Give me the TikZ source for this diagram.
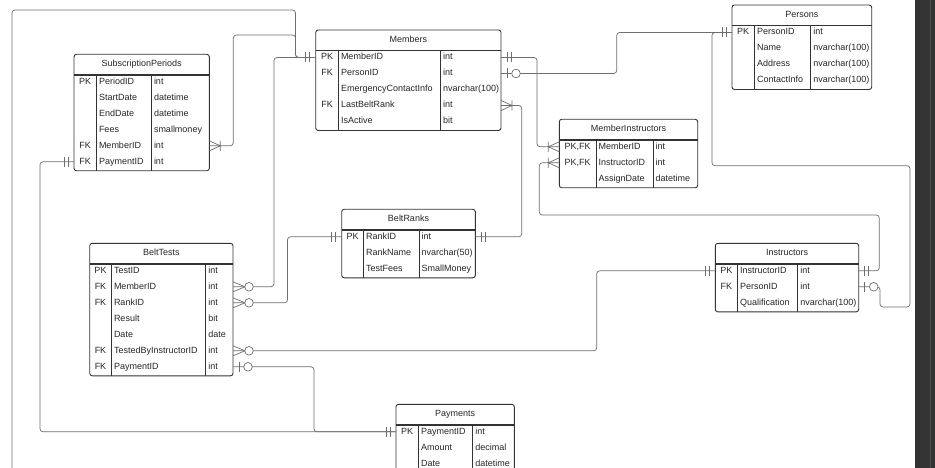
\documentclass[tikz,border=0pt]{standalone}
\usepackage{fontspec}
\setmainfont{Liberation Sans}
\usepackage{tikz}

\definecolor{tblcol}{HTML}{333333}
\definecolor{linkcol}{HTML}{6E6E6E}
\definecolor{panelcol}{HTML}{333333}

\tikzset{
  tblframe/.style={draw=tblcol, line width=0.9pt, rounded corners=2.5pt},
  cell/.style={font=\fontsize{9}{10}\selectfont, text=black!85, text height=6.5pt,
    text depth=2pt, inner xsep=2.5pt, inner ysep=0pt},
  conn/.style={draw=linkcol, line width=0.7pt, rounded corners=3pt},
  one/.pic={\draw[linkcol, line width=0.7pt] (6,-5) -- (6,5) (10,-5) -- (10,5);},
  manyone/.pic={\draw[linkcol, line width=0.7pt] (0,-5) -- (11,0) -- (0,5) (11,-5) -- (11,5);},
  zeromany/.pic={\draw[linkcol, line width=0.7pt] (0,-5) -- (12,0) -- (0,5);
    \draw[linkcol, line width=0.7pt, fill=white] (16,0) circle (4.3);},
  zeroone/.pic={\draw[linkcol, line width=0.7pt] (6,-5) -- (6,5);
    \draw[linkcol, line width=0.7pt, fill=white] (15,0) circle (4.3);}
}

% name, title, left, col1, col2, right, top, rows, fields
\newcommand{\ertable}[9]{%
  \pgfmathsetmacro\ersep{#7+20.5}%
  \pgfmathsetmacro\erbot{\ersep+16*#8}%
  \draw[tblframe, fill=white] (#3,#7) rectangle (#6,\erbot);
  \draw[tblcol, line width=1.5pt] (#3,\ersep) -- (#6,\ersep);
  \draw[tblcol, line width=0.7pt] (#4,\ersep) -- (#4,\erbot) (#5,\ersep) -- (#5,\erbot);
  \node[cell] (#1) at ({(#3+#6)/2},{#7+10}) {#2};
  \foreach \k/\f/\t [count=\i] in {#9} {
    \pgfmathsetmacro\ery{\ersep+7+16*(\i-1)}
    \node[cell] (#1-k\i) at ({(#3+#4)/2},\ery) {\k};
    \node[cell, anchor=west] (#1-f\i) at (#4,\ery) {\f};
    \node[cell, anchor=west] (#1-t\i) at (#5,\ery) {\t};
    \coordinate (#1-w\i) at (#3,\ery);
    \coordinate (#1-e\i) at (#6,\ery);
  }%
}

\begin{document}
\begin{tikzpicture}[x=1pt, y=-1pt]
  \useasboundingbox (0,0) rectangle (935,468);
  \fill[white] (0,0) rectangle (935,468);
  \clip (0,0) rectangle (935,468);
  \fill[panelcol] (915,0) rectangle (935,468);
  \draw[gray!60!black, line width=0.6pt] (930,0) -- (930,468);

  \ertable{sp}{SubscriptionPeriods}{74}{96.3}{151.3}{209.3}{54.3}{6}{%
    PK/PeriodID/int, /StartDate/datetime, /EndDate/datetime, /Fees/smallmoney,
    FK/MemberID/int, FK/PaymentID/int}
  \ertable{mem}{Members}{315.7}{338.3}{440.3}{501}{30}{5}{%
    PK/MemberID/int, FK/PersonID/int, /EmergencyContactInfo/nvarchar(100),
    FK/LastBeltRank/int, /IsActive/bit}
  \ertable{per}{Persons}{732}{754.3}{810.7}{871.7}{5}{4}{%
    PK/PersonID/int, /Name/nvarchar(100), /Address/nvarchar(100), /ContactInfo/nvarchar(100)}
  \ertable{mi}{MemberInstructors}{559.3}{596}{653}{697.7}{119.3}{3}{%
    {PK,FK}/MemberID/int, {PK,FK}/InstructorID/int, /AssignDate/datetime}
  \ertable{br}{BeltRanks}{341.7}{363.3}{419}{475.3}{209.3}{3}{%
    PK/RankID/int, /RankName/nvarchar(50), /TestFees/SmallMoney}
  \ertable{inst}{Instructors}{715.3}{737.3}{797.7}{858.7}{243.3}{3}{%
    PK/InstructorID/int, FK/PersonID/int, /Qualification/nvarchar(100)}
  \ertable{bt}{BeltTests}{89.7}{111.3}{205.7}{233}{243.3}{7}{%
    PK/TestID/int, FK/MemberID/int, FK/RankID/int, /Result/bit, /Date/date,
    FK/TestedByInstructorID/int, FK/PaymentID/int}
  \ertable{pay}{Payments}{396}{418.3}{472.7}{514.3}{404.3}{3}{%
    PK/PaymentID/int, /Amount/decimal, /Date/datetime}

  \coordinate (lostend) at (12,470);

  % links
  \draw[conn] (mem-w1) -| (295.5,10) -| (lostend);
  \draw[conn] (sp-e5) -| (233.3,35) -- (295.5,35) |- (mem-w1);
  \draw[conn] (bt-e2) -| (274,57.5) -- (mem-w1);
  \draw[conn] (mem-e1) -| (537,146.8) -- (mi-w1);
  \draw[conn] (mem-e2) -| (616.7,32.5) -- (per-w1);
  \draw[conn] (mem-e4) -| (521.7,236.8) -- (br-e1);
  \draw[conn] (inst-e2) -| (880,307) -| (910,165.7) -| (712,32.5) -- (per-w1);
  \draw[conn] (inst-e1) -| (879.3,215) -| (539.3,162.8) -- (mi-w2);
  \draw[conn] (bt-e6) -| (596.7,270.8) -- (inst-w1);
  \draw[conn] (bt-e3) -| (287.5,236.8) -- (br-w1);
  \draw[conn] (bt-e7) -| (314,431.8) -- (pay-w1);
  \draw[conn] (sp-w6) -| (40,431.8) -- (pay-w1);

  % ends
  \pic[xscale=-1] at (mem-w1) {one};
  \pic at (mem-e1) {one};
  \pic at (mem-e2) {zeroone};
  \pic at (mem-e4) {manyone};
  \pic[xscale=-1] at (per-w1) {one};
  \pic at (sp-e5) {manyone};
  \pic[xscale=-1] at (sp-w6) {one};
  \pic[xscale=-1] at (mi-w1) {manyone};
  \pic[xscale=-1] at (mi-w2) {manyone};
  \pic[xscale=-1] at (br-w1) {one};
  \pic at (br-e1) {one};
  \pic at (bt-e2) {zeromany};
  \pic at (bt-e3) {zeromany};
  \pic at (bt-e6) {zeromany};
  \pic at (bt-e7) {zeroone};
  \pic[xscale=-1] at (inst-w1) {one};
  \pic at (inst-e1) {one};
  \pic at (inst-e2) {zeroone};
  \pic[xscale=-1] at (pay-w1) {one};
\end{tikzpicture}
\end{document}
